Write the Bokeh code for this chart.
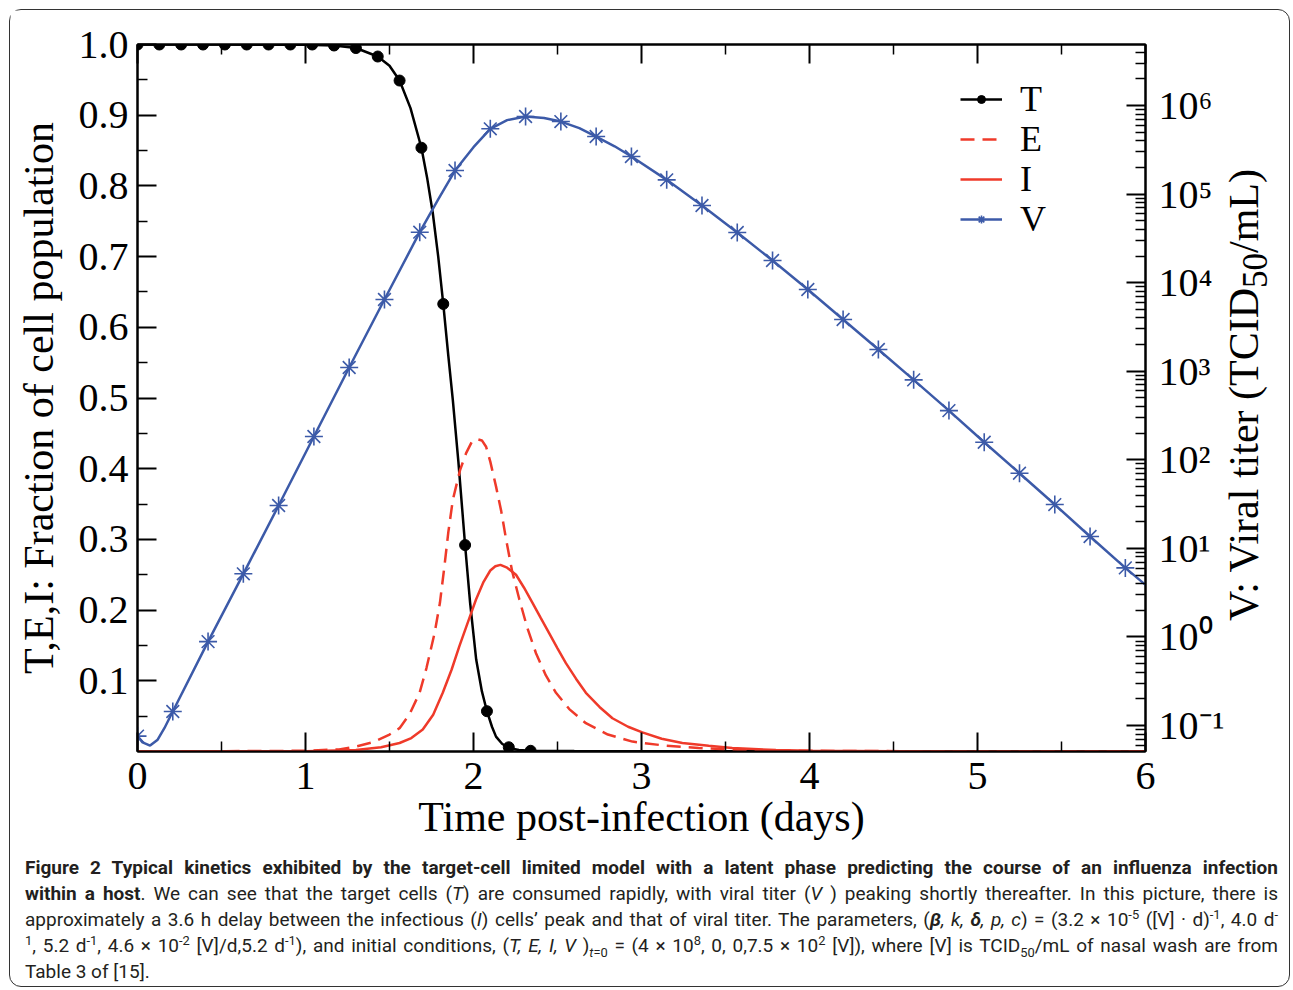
import math
from bokeh.plotting import figure
from bokeh.models import (Range1d, LogScale, LinearAxis, LogAxis, FixedTicker,
                          PrintfTickFormatter, CustomJSTickFormatter, Legend,
                          LegendItem, Div)
from bokeh.layouts import column, row
from bokeh.embed import file_html
from bokeh.resources import INLINE

# ---------------- data ----------------
# T: target cells (fraction), line and circle markers
T_line_t = [0, 0.5, 1.0, 1.17, 1.30, 1.43, 1.50, 1.56, 1.625, 1.69, 1.725, 1.758,
            1.79, 1.82, 1.85, 1.877, 1.91, 1.95, 1.98, 2.016, 2.05, 2.08, 2.11,
            2.134, 2.17, 2.21, 2.27, 2.34, 2.6, 3.0, 4.0, 5.0, 6.0]
T_line_v = [1.0, 1.0, 0.9995, 0.9986, 0.995, 0.983, 0.970, 0.949, 0.910, 0.854,
            0.810, 0.761, 0.700, 0.633, 0.560, 0.497, 0.410, 0.292, 0.210, 0.130,
            0.085, 0.057, 0.035, 0.021, 0.011, 0.005, 0.002, 0.001, 0.0006,
            0.0004, 0.0003, 0.0003, 0.0003]
T_mark_t = [0.0, 0.13, 0.26, 0.39, 0.52, 0.65, 0.78, 0.91, 1.04, 1.17, 1.30,
            1.43, 1.56, 1.69, 1.82, 1.95, 2.08, 2.21, 2.34]
T_mark_v = [1.0, 1.0, 1.0, 1.0, 1.0, 1.0, 1.0, 1.0, 1.0, 0.9986, 0.995, 0.983,
            0.949, 0.854, 0.633, 0.292, 0.057, 0.006, 0.001]

# E: eclipse cells (fraction), dashed
E_t = [0, 1.0, 1.2, 1.3, 1.4, 1.5, 1.56, 1.62, 1.679, 1.72, 1.768, 1.80, 1.827,
       1.85, 1.877, 1.92, 1.956, 1.99, 2.019, 2.05, 2.075, 2.10, 2.134, 2.165,
       2.194, 2.23, 2.273, 2.32, 2.372, 2.43, 2.491, 2.57, 2.669, 2.8, 2.946,
       3.15, 3.34, 3.6, 4.0, 5.0, 6.0]
E_v = [0, 0.001, 0.003, 0.007, 0.013, 0.024, 0.033, 0.053, 0.083, 0.118, 0.167,
       0.210, 0.262, 0.310, 0.356, 0.398, 0.422, 0.438, 0.442, 0.440, 0.431,
       0.410, 0.375, 0.340, 0.300, 0.255, 0.215, 0.175, 0.139, 0.108, 0.083,
       0.060, 0.040, 0.024, 0.014, 0.008, 0.005, 0.002, 0.001, 0.0, 0.0]

# I: infectious cells (fraction), solid red
I_t = [0, 1.0, 1.3, 1.45, 1.56, 1.63, 1.698, 1.76, 1.817, 1.87, 1.916, 1.97,
       2.015, 2.06, 2.10, 2.13, 2.16, 2.20, 2.253, 2.30, 2.352, 2.40, 2.451,
       2.50, 2.55, 2.61, 2.669, 2.75, 2.827, 2.92, 3.005, 3.12, 3.243, 3.40,
       3.54, 3.80, 4.0, 4.5, 5.0, 6.0]
I_v = [0, 0.0005, 0.002, 0.006, 0.012, 0.019, 0.031, 0.052, 0.083, 0.116, 0.149,
       0.185, 0.215, 0.240, 0.256, 0.262, 0.264, 0.260, 0.250, 0.232, 0.210,
       0.189, 0.167, 0.146, 0.125, 0.103, 0.083, 0.063, 0.047, 0.035, 0.027,
       0.018, 0.012, 0.008, 0.005, 0.002, 0.001, 0.0005, 0.0, 0.0]

# V: viral titer, log10(TCID50/mL)
V_line_t = [0, 0.03, 0.075, 0.12, 0.16, 0.21, 0.42, 0.63, 0.84, 1.05, 1.26, 1.47,
            1.68, 1.79, 1.89, 2.0, 2.10, 2.2, 2.31, 2.42, 2.52, 2.63, 2.73, 2.84,
            2.94, 3.15, 3.36, 3.57, 3.78, 3.99, 4.20, 4.41, 4.62, 4.83, 5.04, 5.25,
            5.46, 5.67, 5.88, 6.0]
V_line_log = [-1.119, -1.19, -1.226, -1.16, -1.03, -0.842, -0.052, 0.713, 1.484,
              2.263, 3.042, 3.810, 4.570, 4.940, 5.266, 5.530, 5.737, 5.835,
              5.876, 5.860, 5.819, 5.745, 5.650, 5.540, 5.424, 5.161, 4.871,
              4.566, 4.250, 3.923, 3.584, 3.245, 2.903, 2.556, 2.198, 1.849,
              1.495, 1.134, 0.780, 0.588]
V_mark_t = [0.0, 0.21, 0.42, 0.63, 0.84, 1.05, 1.26, 1.47, 1.68, 1.89, 2.10, 2.31,
            2.52, 2.73, 2.94, 3.15, 3.36, 3.57, 3.78, 3.99, 4.20, 4.41, 4.62,
            4.83, 5.04, 5.25, 5.46, 5.67, 5.88]
V_mark_log = [-1.119, -0.842, -0.052, 0.713, 1.484, 2.263, 3.042, 3.810, 4.570,
              5.266, 5.737, 5.876, 5.819, 5.650, 5.424, 5.161, 4.871, 4.566,
              4.250, 3.923, 3.584, 3.245, 2.903, 2.556, 2.198, 1.849, 1.495,
              1.134, 0.780]

x_ticks = [0, 1, 2, 3, 4, 5, 6]
x_minor = [0.5, 1.5, 2.5, 3.5, 4.5, 5.5]
y_ticks = [0.1, 0.2, 0.3, 0.4, 0.5, 0.6, 0.7, 0.8, 0.9, 1.0]
y_minor = [0.05, 0.15, 0.25, 0.35, 0.45, 0.55, 0.65, 0.75, 0.85, 0.95]
v_exponents = [-1, 0, 1, 2, 3, 4, 5, 6]

labels = ["T", "E", "I", "V"]
x_title = "Time post-infection (days)"
y_title = "T,E,I: Fraction of cell population"
v_title_html = "V: Viral titer (TCID<sub>50</sub>/mL)"

BLUE = "#3C5AA8"
RED = "#EF3A2A"
SERIF = "Liberation Serif"

# ---------------- figure ----------------
FIG_W, FIG_H = 1217, 836
p = figure(width=FIG_W, height=FIG_H, x_range=Range1d(0, 6), y_range=Range1d(0, 1),
           output_backend="svg", toolbar_location=None,
           min_border_left=127, min_border_top=34, min_border_right=80,
           min_border_bottom=95)
p.grid.visible = False
p.outline_line_color = "black"
p.outline_line_width = 2
p.background_fill_color = "white"
p.border_fill_color = "white"

p.extra_y_ranges = {"v": Range1d(10 ** -1.293, 10 ** 6.689)}
p.extra_y_scales = {"v": LogScale()}


def style(ax, label_size="40px"):
    ax.axis_line_width = 2
    ax.axis_line_color = "black"
    ax.major_tick_in = 19
    ax.major_tick_out = 0
    ax.minor_tick_in = 10
    ax.minor_tick_out = 0
    ax.major_tick_line_width = 2
    ax.minor_tick_line_width = 1.5
    ax.major_tick_line_color = "black"
    ax.minor_tick_line_color = "black"
    ax.major_label_text_font = SERIF
    ax.major_label_text_font_size = label_size
    ax.major_label_text_color = "black"
    ax.axis_label_text_font = SERIF
    ax.axis_label_text_font_size = "42px"
    ax.axis_label_text_font_style = "normal"
    ax.axis_label_text_color = "black"


xb = p.xaxis[0]
xb.ticker = FixedTicker(ticks=x_ticks, minor_ticks=x_minor)
style(xb)
xb.axis_label = x_title
xb.major_label_standoff = 11
xb.axis_label_standoff = 2

yl = p.yaxis[0]
yl.ticker = FixedTicker(ticks=y_ticks, minor_ticks=y_minor)
yl.formatter = PrintfTickFormatter(format="%.1f")
style(yl)
yl.axis_label = y_title
yl.major_label_standoff = 9
yl.axis_label_standoff = 14

xt = LinearAxis(ticker=FixedTicker(ticks=x_ticks, minor_ticks=x_minor))
style(xt)
xt.major_label_overrides = {t: "" for t in x_ticks}
xt.major_label_standoff = 0
p.add_layout(xt, "above")

v_major = [10.0 ** e for e in v_exponents]
v_minor = [m * 10.0 ** e for e in range(-2, 7) for m in range(2, 10)]
yr = LogAxis(y_range_name="v", ticker=FixedTicker(ticks=v_major, minor_ticks=v_minor))
yr.formatter = CustomJSTickFormatter(code="""
const e = Math.round(Math.log10(tick));
const sup = {'-':'\u207b','0':'\u2070','1':'\u00b9','2':'\u00b2','3':'\u00b3','4':'\u2074',
             '5':'\u2075','6':'\u2076','7':'\u2077','8':'\u2078','9':'\u2079'};
return '10' + String(e).split('').map(c => sup[c]).join('');
""")
style(yr)
yr.major_label_standoff = 13
p.add_layout(yr, "right")

# ---------------- glyphs ----------------
t_line = p.line(T_line_t, T_line_v, line_color="black", line_width=2.5)
t_pts = p.scatter(T_mark_t, T_mark_v, marker="circle", size=11,
                  fill_color="black", line_color="black")
e_line = p.line(E_t, E_v, line_color=RED, line_width=2.5, line_dash="14 8")
i_line = p.line(I_t, I_v, line_color=RED, line_width=2.5)
v_line = p.line(V_line_t, [10 ** v for v in V_line_log], y_range_name="v",
                line_color=BLUE, line_width=2.5)
v_pts = p.scatter(V_mark_t, [10 ** v for v in V_mark_log], y_range_name="v",
                  marker="asterisk", size=18, line_color=BLUE, line_width=1.6)

# one legend per entry so that the rows sit as tightly as in the original
legend_rows = [
    (labels[0], [t_line, t_pts], 631),
    (labels[1], [e_line], 591),
    (labels[2], [i_line], 551),
    (labels[3], [v_line, v_pts], 511),
]
for lab, rends, ypos in legend_rows:
    lg = Legend(items=[LegendItem(label=lab, renderers=rends)], location=(823, ypos))
    lg.label_text_font = SERIF
    lg.label_text_font_size = "36px"
    lg.label_text_color = "black"
    lg.glyph_width = 42
    lg.glyph_height = 20
    lg.label_standoff = 18
    lg.padding = 0
    lg.margin = 0
    lg.spacing = 0
    lg.border_line_alpha = 0
    lg.background_fill_alpha = 0
    p.add_layout(lg)

# right-hand title (reads bottom-to-top like the left one)
v_title_div = Div(
    text=('<div style="position:relative;width:62px;height:836px;">'
          '<span style="position:absolute;left:21px;top:385px;white-space:nowrap;'
          'transform:translate(-50%,-50%) rotate(-90deg);'
          f'font-family:\'{SERIF}\',serif;font-size:42px;line-height:1;color:black;">'
          + v_title_html + '</span></div>'),
    width=62, height=FIG_H, margin=0)

# ---------------- caption ----------------
cap_lines = [
    "<b>Figure 2 Typical kinetics exhibited by the target-cell limited model with a latent phase predicting the course of an influenza infection</b>",
    "<b>within a host</b>. We can see that the target cells (<i>T</i>) are consumed rapidly, with viral titer (<i>V</i> ) peaking shortly thereafter. In this picture, there is",
    "approximately a 3.6 h delay between the infectious (<i>I</i>) cells\u2019 peak and that of viral titer. The parameters, (<i><b>\u03b2</b>, k, <b>\u03b4</b>, p, c</i>) = (3.2 \u00d7 10<sup>-5</sup> ([V] \u00b7 d)<sup>-1</sup>, 4.0 d<sup>-</sup>",
    "<sup>1</sup>, 5.2 d<sup>-1</sup>, 4.6 \u00d7 10<sup>-2</sup> [V]/d,5.2 d<sup>-1</sup>), and initial conditions, (<i>T, E, I, V</i> )<sub><i>t</i>=0</sub> = (4 \u00d7 10<sup>8</sup>, 0, 0,7.5 \u00d7 10<sup>2</sup> [V]), where [V] is TCID<sub>50</sub>/mL of nasal wash are from",
    "Table 3 of [15].",
]
rows = []
for k, ln in enumerate(cap_lines):
    last = k == len(cap_lines) - 1
    align = "left" if last else "justify"
    rows.append(f'<div style="white-space:nowrap;text-align:{align};text-align-last:{align};">{ln}</div>')
html = ('<style>sup,sub{line-height:0;font-size:68%;}</style>'
        '<div style="font-family:Roboto,\'Open Sans\',sans-serif;font-size:19px;line-height:26px;'
        'color:#231F20;width:1253px;margin-left:15px;padding-top:9px;">'
        + "".join(rows) + '</div>')
cap = Div(text=html, width=FIG_W + 62, height=140, margin=0)

layout = column(row(p, v_title_div), cap,
                styles={"border": "1px solid #333", "border-radius": "12px",
                        "background-color": "white",
                        "margin-left": "9px", "margin-top": "9px"})

open("out.html", "w").write(file_html(layout, INLINE))
